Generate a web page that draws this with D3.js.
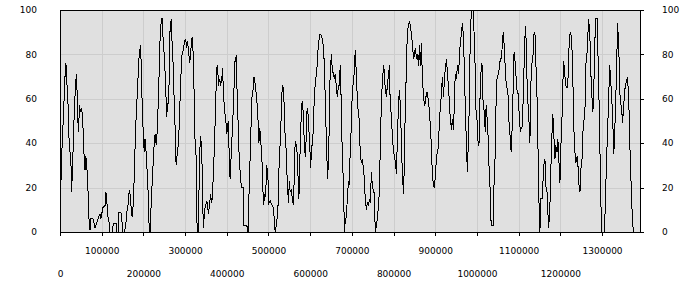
<!DOCTYPE html>
<html>
<head>
<meta charset="utf-8">
<script src="https://cdn.jsdelivr.net/npm/d3@7"></script>
<style>
  body { margin: 0; background: #fff; }
  svg text { font-family: "DejaVu Sans", Verdana, sans-serif; font-size: 9px; fill: #000; }
</style>
</head>
<body>
<svg id="chart" width="700" height="300"></svg>
<script>
// sample positions (in thousands) and values
var positions = [
  0,2,3,7,9,12,14,16,17,20,21,24,26,28,30,32,34,36,39,40,42,44,47,49,52,55,57,60,62,64,67,69,72,74,79,84,88,93,96,98,
  103,108,110,113,115,118,120,125,128,135,136,140,141,146,148,151,155,157,159,161,164,166,168,171,173,176,178,180,183,185,
  188,190,193,194,196,198,200,202,204,207,209,212,214,216,219,221,224,226,228,231,233,236,238,240,243,245,247,249,252,254,
  256,258,260,263,264,267,269,272,273,276,277,279,281,284,286,288,291,293,296,298,301,304,306,308,311,313,316,318,320,322,
  324,327,328,331,333,335,337,340,342,344,347,349,352,354,356,359,361,364,366,368,371,373,376,378,380,383,385,388,390,392,
  395,397,400,402,404,406,408,411,413,416,418,420,423,425,428,430,
  435,439,440,441,448,451,453,457,460,463,465,467,469,472,475,477,479,481,484,486,488,491,493,496,499,501,504,506,509,512,
  514,516,519,521,524,526,528,531,533,536,538,540,543,545,548,550,552,555,557,560,562,564,567,569,572,573,575,577,580,582,
  584,587,589,592,594,596,599,601,604,606,608,611,613,616,618,620,623,625,628,630,632,635,637,640,641,644,646,648,651,653,
  656,658,660,663,665,668,670,672,675,677,680,682,684,687,689,692,694,696,699,701,704,706,708,711,713,716,718,720,723,725,
  728,730,732,735,737,740,742,744,747,749,752,754,756,759,761,764,766,768,771,773,776,778,780,783,785,788,790,792,795,797,
  800,802,804,807,809,812,814,816,819,821,824,826,828,831,833,836,838,840,843,845,848,850,852,855,857,860,862,864,867,869,
  872,874,876,879,881,884,886,888,891,893,896,898,900,903,905,908,910,912,915,917,920,922,924,927,929,932,934,936,939,941,
  944,946,948,951,953,956,958,960,963,965,968,970,972,975,977,980,982,
  984,987,991,993,996,998,1000,1003,1005,1008,1010,1012,1015,1017,1020,1022,1024,1027,1029,1032,1034,1039,1041,1044,1046,
  1048,1051,1053,1056,1058,1060,1063,1065,1068,1070,1072,1075,1077,1080,1082,1084,1087,1089,1092,1094,1096,1099,1101,1104,
  1106,1108,1111,1113,1116,1118,1120,1123,1125,1127,1129,1132,1134,1136,1139,1141,1144,1146,1148,1151,1153,1156,1158,1160,
  1163,1165,1168,1170,1172,1175,1177,1180,1182,1184,1187,1189,1192,1194,1196,1199,1201,1204,1206,1208,1211,1213,1216,1218,
  1220,1223,1225,1228,1230,1232,1235,1237,1240,1242,1244,1247,1249,1252,1254,1256,1259,1261,1264,1266,1268,1271,1273,1276,
  1278,1280,1283,1285,1288,1290,1292,1295,1297,1299,1306,1308,1311,1313,1316,1318,1320,1323,1325,1328,1330,1332,1335,1337,
  1340,1342,1344,1347,1349,1352,1354,1356,1359,1361,1364,1366,1368,1371,1373,1376
];
var values = [
  20,18,30,47,56,70,76,72,65,55,44,36,33,18,30,40,53,61,71,70,55,45,57,54,56,48,37,28,34,31,20,7,1,6,6,2,4,7,8,6,
  11,12,18,12,7,4,0,0,4,4,0,0,9,9,6,0,0,3,5,10,13,19,17,10,7,13,25,38,54,61,
  73,80,84,80,65,52,43,36,42,35,27,15,0,0,14,22,33,40,44,39,45,60,73,87,96,96,88,83,72,62,
  52,58,58,75,93,96,84,73,64,47,34,30,35,40,48,60,75,81,82,85,87,83,86,82,76,80,87,88,75,60,
  40,33,5,0,15,35,43,38,14,2,10,12,14,12,8,13,17,13,18,27,42,57,74,75,66,69,66,69,74,62,
  54,52,44,48,50,32,24,36,45,57,69,78,79,60,45,32,
  20,20,16,3,3,0,15,40,60,64,70,68,65,60,50,40,47,42,34,23,12,17,16,30,23,13,14,13,12,11,
  5,0,3,7,15,37,39,55,66,65,55,42,36,22,13,23,18,19,15,12,27,41,39,35,19,15,31,45,58,59,
  49,36,34,54,56,49,39,29,39,39,52,64,68,73,80,85,89,89,88,85,84,69,52,37,24,31,52,73,80,73,
  71,69,71,65,61,66,66,75,55,34,21,0,5,7,15,23,21,37,49,64,68,73,82,70,60,52,51,35,31,33,
  28,24,15,10,13,12,15,13,27,21,18,18,0,3,6,12,19,37,60,67,75,72,64,61,66,71,75,57,52,43,
  36,34,32,26,42,58,64,58,40,26,17,33,55,75,91,93,95,93,89,85,78,80,83,78,80,75,84,75,85,69,
  61,57,58,63,63,58,55,48,38,25,21,20,25,34,36,39,52,55,63,70,61,70,73,78,72,64,58,51,46,51,
  46,61,71,69,75,71,80,85,90,94,87,70,57,37,27,45,60,
  90,100,100,90,72,52,51,39,40,66,73,76,56,55,45,57,52,42,29,18,3,3,22,36,61,
  69,71,73,78,78,82,90,85,73,67,65,61,49,42,36,45,66,81,76,69,64,62,54,45,
  47,47,60,75,93,86,69,55,49,40,66,76,77,89,90,78,61,43,18,0,15,15,21,30,
  33,21,18,9,2,12,27,45,53,45,33,39,36,42,34,22,37,52,67,77,70,66,65,67,
  81,89,90,82,69,48,36,31,34,31,22,18,28,33,45,49,55,75,81,89,96,87,72,60,
  54,63,87,96,96,82,66,36,15,0,0,15,33,45,60,75,71,60,55,35,42,55,73,94,
  85,66,58,56,49,57,63,66,68,70,60,45,30,15,4,0
];
var bottomTicks = [0,100,200,300,400,500,600,700,800,900,1000,1100,1200,1300];
var bottomLabels = ["0","100000","200000","300000","400000","500000","600000","700000",
  "800000","900000","1000000","1100000","1200000","1300000"];
var sideTicks = [0,20,40,60,80,100];

(function() {
  var svg = d3.select("#chart");
  var left = 60, right = 640, top = 10, bottom = 232;

  var x = d3.scaleLinear().domain([0, 1391]).range([left, right]);
  var y = d3.scaleLinear().domain([0, 100]).range([bottom, top]);

  // plot background
  svg.append("rect")
    .attr("x", left).attr("y", top)
    .attr("width", right - left).attr("height", bottom - top)
    .attr("fill", "#e0e0e0");

  // grid
  var grid = svg.append("g").attr("shape-rendering", "crispEdges");
  grid.selectAll("line.v")
    .data(bottomTicks.slice(1))
    .enter().append("line")
    .attr("x1", d => Math.round(x(d)) + 0.5).attr("x2", d => Math.round(x(d)) + 0.5)
    .attr("y1", top).attr("y2", bottom)
    .attr("stroke", "#cdcdcd");
  grid.selectAll("line.h")
    .data(sideTicks.slice(1, -1))
    .enter().append("line")
    .attr("x1", left).attr("x2", right)
    .attr("y1", d => Math.round(y(d)) + 0.5).attr("y2", d => Math.round(y(d)) + 0.5)
    .attr("stroke", "#cdcdcd");

  // data line
  var pts = positions.map((p, i) => [p, values[i]]);
  var line = d3.line()
    .x(d => x(d[0]))
    .y(d => y(d[1]));
  svg.append("path")
    .datum(pts)
    .attr("d", line)
    .attr("fill", "none")
    .attr("stroke", "#000")
    .attr("stroke-width", 1)
    .attr("shape-rendering", "crispEdges");

  // frame
  svg.append("rect")
    .attr("x", left + 0.5).attr("y", top + 0.5)
    .attr("width", right - left).attr("height", bottom - top)
    .attr("fill", "none").attr("stroke", "#000")
    .attr("shape-rendering", "crispEdges");

  // bottom axis, labels alternate between two rows
  var xAxis = svg.append("g").attr("shape-rendering", "crispEdges");
  xAxis.selectAll("line")
    .data(bottomTicks)
    .enter().append("line")
    .attr("x1", d => Math.round(x(d)) + 0.5).attr("x2", d => Math.round(x(d)) + 0.5)
    .attr("y1", bottom).attr("y2", bottom + 4)
    .attr("stroke", "#000");
  xAxis.selectAll("text")
    .data(bottomTicks)
    .enter().append("text")
    .attr("x", d => x(d) + 0.5)
    .attr("y", (d, i) => i % 2 ? 254 : 277)
    .attr("text-anchor", "middle")
    .text((d, i) => bottomLabels[i]);

  // left labels
  svg.append("g").selectAll("text")
    .data(sideTicks)
    .enter().append("text")
    .attr("x", 37)
    .attr("y", d => y(d))
    .attr("dy", "0.35em")
    .attr("text-anchor", "end")
    .text(d => d);

  // right axis
  var yRight = svg.append("g");
  yRight.selectAll("line")
    .data(sideTicks)
    .enter().append("line")
    .attr("x1", right).attr("x2", right + 4)
    .attr("y1", d => Math.round(y(d)) + 0.5).attr("y2", d => Math.round(y(d)) + 0.5)
    .attr("stroke", "#000")
    .attr("shape-rendering", "crispEdges");
  yRight.selectAll("text")
    .data(sideTicks)
    .enter().append("text")
    .attr("x", 662)
    .attr("y", d => y(d))
    .attr("dy", "0.35em")
    .text(d => d);
})();
</script>
</body>
</html>
